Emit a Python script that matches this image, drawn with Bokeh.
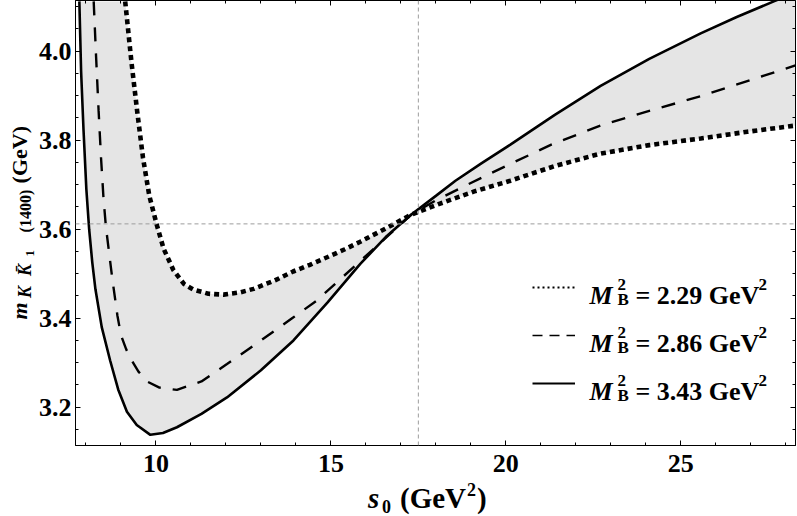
from bokeh.plotting import figure
from bokeh.layouts import row, column
from bokeh.models import (Span, Label, Legend, LegendItem, LinearAxis, Range1d, Div,
                          SingleIntervalTicker, PrintfTickFormatter)
from bokeh.core.properties import value
from bokeh.embed import file_html
from bokeh.resources import INLINE

# ---- data ----
# M_B^2 = 2.29 GeV^2 (dotted)
s0_229 = [9.12, 9.30, 9.46, 9.63, 9.81, 10.03, 10.22, 10.50, 10.80, 11.08, 11.50,
          11.93, 12.40, 12.79, 13.40, 13.92, 14.40, 14.89, 15.40, 15.84, 16.60,
          17.30, 18.10, 19.10, 20.13, 21.40, 22.71, 24.10, 25.57, 26.90, 28.28]
m_229 = [4.112, 3.975, 3.867, 3.760, 3.675, 3.608, 3.556, 3.508, 3.477, 3.464, 3.455,
         3.453, 3.458, 3.466, 3.485, 3.505, 3.520, 3.537, 3.555, 3.572, 3.603,
         3.633, 3.657, 3.685, 3.709, 3.742, 3.770, 3.789, 3.804, 3.819, 3.833]

# M_B^2 = 2.86 GeV^2 (dashed)
s0_286 = [8.22, 8.29, 8.36, 8.43, 8.50, 8.57, 8.75, 8.90, 9.00, 9.15, 9.31, 9.50,
          9.74, 10.10, 10.60, 11.30, 12.03, 13.00, 13.93, 14.60, 15.30, 16.00,
          16.70, 17.30, 18.00, 18.90, 20.00, 21.30, 22.71, 24.10, 25.57, 26.90, 28.28]
m_286 = [4.112, 3.985, 3.867, 3.760, 3.670, 3.605, 3.490, 3.405, 3.362, 3.330, 3.305, 3.280,
         3.258, 3.244, 3.239, 3.258, 3.297, 3.350, 3.402, 3.440, 3.490, 3.540,
         3.590, 3.633, 3.665, 3.700, 3.742, 3.790, 3.833, 3.866, 3.899, 3.933, 3.968]

# M_B^2 = 3.43 GeV^2 (solid)
s0_343 = [7.81, 7.86, 7.93, 8.01, 8.09, 8.18, 8.27, 8.45, 8.69, 8.92, 9.17, 9.45,
          9.84, 10.20, 10.60, 11.30, 12.03, 13.00, 13.93, 14.90, 15.84, 16.60,
          17.30, 18.00, 18.56, 19.30, 20.13, 21.40, 22.71, 24.10, 25.57, 26.60,
          27.66, 28.28]
m_343 = [4.112, 3.955, 3.822, 3.690, 3.600, 3.525, 3.465, 3.380, 3.305, 3.240, 3.190, 3.160,
         3.138, 3.142, 3.155, 3.185, 3.222, 3.283, 3.350, 3.435, 3.522, 3.585,
         3.633, 3.675, 3.709, 3.748, 3.790, 3.857, 3.922, 3.983, 4.040, 4.077,
         4.112, 4.132]

ref_s0 = 17.5      # vertical reference line
ref_m = 3.612      # horizontal reference line
legend_values = ["2.29", "2.86", "3.43"]
x_major_interval = 5
y_major_interval = 0.2

FONT = "Liberation Serif"

# layout (page pixels): left strip for the y title, main plot, bottom strip for x title
LEFT_W, MAIN_W, MAIN_H, BOT_H = 35, 762, 485, 30
TOTAL_H = MAIN_H + BOT_H

p = figure(width=MAIN_W, height=MAIN_H, output_backend="svg", toolbar_location=None,
           x_range=Range1d(7.70, 28.28), y_range=Range1d(3.114, 4.114),
           min_border_left=40, min_border_right=2, min_border_top=0,
           min_border_bottom=40, background_fill_color="white",
           border_fill_color="white", margin=0)
p.grid.visible = False
p.outline_line_color = "black"
p.outline_line_width = 1

# band between the extreme curves (figure-8 polygon through the crossing)
p.patch(s0_343 + s0_229[::-1], m_343 + m_229[::-1],
        fill_color="#e5e5e5", line_color=None)

p.line(s0_343, m_343, line_color="black", line_width=2.6)
p.line(s0_286, m_286, line_color="black", line_width=2.4, line_dash="14 12")
p.line(s0_229, m_229, line_color="black", line_width=4.6, line_dash="5 4",
       line_cap="butt")

for loc, dim in ((ref_s0, "height"), (ref_m, "width")):
    p.add_layout(Span(location=loc, dimension=dim, line_color="#9c9c9c",
                      line_width=1, line_dash="4 3"))

# ---- axes ----
def style_axis(ax, ticker, fmt, show_labels, standoff=4):
    ax.ticker = ticker
    ax.formatter = PrintfTickFormatter(format=fmt)
    ax.axis_line_color = "black"
    ax.major_tick_line_color = "black"
    ax.minor_tick_line_color = "black"
    ax.major_tick_in = 5
    ax.major_tick_out = 0
    ax.minor_tick_in = 3
    ax.minor_tick_out = 0
    if show_labels:
        ax.major_label_text_font = FONT
        ax.major_label_text_font_style = "bold"
        ax.major_label_text_font_size = "26px"
        ax.major_label_text_color = "black"
        ax.major_label_standoff = standoff
    else:
        ax.major_label_text_font_size = "1px"
        ax.major_label_text_color = None
        ax.major_label_standoff = 0

style_axis(p.xaxis[0], SingleIntervalTicker(interval=x_major_interval, num_minor_ticks=5), "%d", True, 9)
style_axis(p.yaxis[0], SingleIntervalTicker(interval=y_major_interval, num_minor_ticks=4), "%.1f", True, 4)
top = LinearAxis()
right = LinearAxis()
style_axis(top, SingleIntervalTicker(interval=x_major_interval, num_minor_ticks=5), "%d", False)
style_axis(right, SingleIntervalTicker(interval=y_major_interval, num_minor_ticks=4), "%.1f", False)
p.add_layout(top, "above")
p.add_layout(right, "right")

# ---- legend samples: hidden copies of the curves with the thin legend styles ----
r1 = p.line(s0_229, m_229, line_color="black", line_width=2, line_dash="2 3",
            line_cap="butt", visible=False)
r2 = p.line(s0_286, m_286, line_color="black", line_width=1.6, line_dash="10 7",
            visible=False)
r3 = p.line(s0_343, m_343, line_color="black", line_width=1.8, visible=False)
legend = Legend(items=[LegendItem(label=value(" "), renderers=[r]) for r in (r1, r2, r3)],
                location=(457, 52), orientation="vertical", glyph_width=43,
                glyph_height=20, label_height=20, spacing=28, padding=0, margin=0,
                border_line_alpha=0, background_fill_alpha=0,
                label_text_font_size="1px", label_text_color=None,
                label_standoff=0, click_policy="none")
p.add_layout(legend)


def lab(text, X, Y, size, style="bold"):
    """Text piece inside the main frame, baseline start at page (X, Y);
    the frame's bottom-left corner is at page (75, 445)."""
    p.add_layout(Label(x=X - 75, y=445 - Y, x_units="screen", y_units="screen",
                       text=text, text_font=FONT, text_font_size=f"{size}px",
                       text_font_style=style, text_color="black",
                       text_align="left", text_baseline="alphabetic"))

for i, v in enumerate(legend_values):
    base = 295 + 48 * i
    lab("M", 589, base, 26, "bold italic")
    lab("2", 617, base - 11, 17)
    lab("B", 617, base + 4, 17)
    lab("= " + v + " GeV", 635, base, 26)
    lab("2", 758, base - 11, 17)


# ---- axis titles as HTML text pieces (outside the plot frame) ----
BASE_K = 0.3375   # baseline offset (in em) of a line-height:0 box for Liberation Serif

def piece(text, X, Y, size, ox, oy, italic=False, rotate=False):
    b = BASE_K * size
    style = (f"position:absolute;left:{X - ox:.1f}px;top:{Y - oy - b:.1f}px;"
             f"line-height:0;white-space:nowrap;font-family:'{FONT}';"
             f"font-weight:bold;font-size:{size}px;color:black;"
             f"font-style:{'italic' if italic else 'normal'};")
    if rotate:
        style += f"transform-origin:0px {b:.1f}px;transform:rotate(-90deg);"
    return f'<div style="{style}">{text}</div>'

def strip(w, h, pieces):
    return Div(width=w, height=h, margin=0,
               text=f'<div style="position:relative;width:{w}px;height:{h}px;">'
                    + "".join(pieces) + "</div>")

# y title: m_{K K̄1 (1400)} (GeV), page strip x 0..35, y 0..515
ydiv = strip(LEFT_W, TOTAL_H, [
    piece("m", 27, 319, 22, 0, 0, italic=True, rotate=True),
    piece("K", 31, 298, 18, 0, 0, italic=True, rotate=True),
    piece("K&#772;", 31, 276, 18, 0, 0, italic=True, rotate=True),
    piece("1", 34, 256, 13, 0, 0, rotate=True),
    piece("(1400)", 31, 232, 16, 0, 0, rotate=True),
    piece("(GeV)", 27, 183, 22, 0, 0, rotate=True),
])

# x title: s0 (GeV^2), page strip x 35..797, y 485..515
xdiv = strip(MAIN_W, BOT_H, [
    piece("s", 368, 508, 29, LEFT_W, MAIN_H, italic=True),
    piece("0", 382, 513, 18, LEFT_W, MAIN_H),
    piece("(GeV", 400, 508, 29, LEFT_W, MAIN_H),
    piece("2", 467, 496, 18, LEFT_W, MAIN_H),
    piece(")", 477, 508, 29, LEFT_W, MAIN_H),
])

layout = row(ydiv, column(p, xdiv, spacing=0, margin=0), spacing=0, margin=0)
open("out.html", "w").write(file_html(layout, INLINE))
